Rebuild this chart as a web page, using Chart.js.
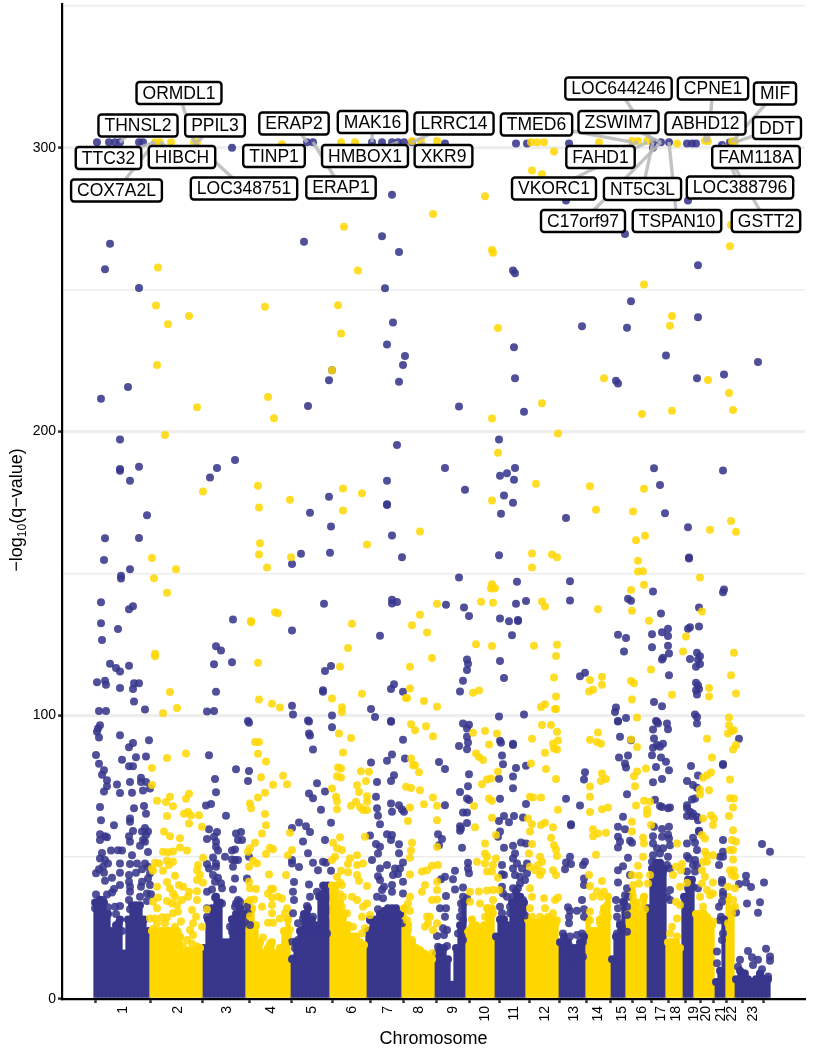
<!DOCTYPE html>
<html>
<head>
<meta charset="utf-8">
<script src="https://cdn.jsdelivr.net/npm/chart.js@4"></script>
<style>html,body{margin:0;padding:0;background:#fff}#w{position:relative;width:813px;height:1050px}</style>
</head>
<body>
<div id="w"><canvas id="c" width="813" height="1050"></canvas></div>
<script>
const chromosomes = ["1","2","3","4","5","6","7","8","9","10","11","12","13","14","15","16","17","18","19","20","21","22","23"];
const chromosomeCentres = [123,178,227,271,312,352,388,419,453,485,514,545,574,598,622,642,661,676,694,706,721,732,753];
const yTicks = [0,100,200,300];

// Solid lower mass of each chromosome: [genome position, height]
const blueMass = [[96,34],[100,35],[104,34],[108,30],[112,24],[116,26],[120,28],[124,16],[128,28],[132,33],[136,33],[140,33],[144,28],[148,24],
[204,18],[208,28],[212,32],[216,36],[220,34],[224,20],[228,20],[232,28],[236,30],[240,32],[244,30],
[292,14],[296,20],[300,24],[304,30],[308,32],[312,28],[316,26],[320,36],[324,40],[328,40],
[368,24],[372,28],[376,28],[380,30],[384,31],[388,32],[392,32],[396,32],[400,30],
[436,16],[440,18],[444,18],[448,14],[452,5],[456,18],[460,26],[464,34],
[496,22],[500,28],[504,28],[508,26],[512,34],[516,38],[520,36],[524,34],
[560,20],[564,22],[568,20],[572,18],[576,18],[580,20],[584,22],
[612,14],[616,22],[620,26],[624,34],
[648,32],[652,46],[656,48],[660,48],[664,46],
[684,36],[688,42],[692,42],
[716,6],[720,10],[724,28],
[736,7],[740,10],[744,9],[748,7],[752,6],[756,7],[760,9],[764,7],[768,7]];
const yellowMass = [[152,24],[156,24],[160,24],[164,24],[168,24],[172,24],[176,24],[180,22],[184,16],[188,17],[192,17],[196,17],[200,18],
[248,34],[252,32],[256,26],[260,20],[264,16],[268,18],[272,20],[276,16],[280,18],[284,24],[288,28],
[332,40],[336,40],[340,34],[344,30],[348,26],[352,22],[356,22],[360,20],[364,19],
[404,32],[408,26],[412,20],[416,18],[420,17],[424,16],[428,15],[432,14],
[468,24],[472,28],[476,26],[480,24],[484,26],[488,32],[492,32],
[528,28],[532,27],[536,27],[540,27],[544,28],[548,28],[552,28],[556,27],
[588,28],[592,24],[596,24],[600,28],[604,32],[608,36],
[628,30],[632,38],[636,34],[640,30],[644,36],
[668,20],[672,20],[676,20],[680,18],
[696,30],[700,30],[704,30],[708,28],[712,26],
[728,36],[732,32]];

const bluePoints = [
[97,302],[109,302],[115,302],[120,302],[139,302],[143,302],[232,300],[307,302],[313,302],[372,302],[382,302],[392,302],[398,302],[404,302],[412,302],[445,301.5],[516,301.5],[527,301.5],[569,301.5],[653,302],[661,302],[669,302],[653,300],[687,301.5],[692,301.5],[696,301.5],[722,301],[730,302],
[392,283.5],[110,266.2],[304,266.9],[382,268.8],[399,263.3],[105,257.2],[139,250.6],[385,250.5],[393,238.4],[387,230.7],[405,226.6],[403,223.5],[332,221.6],[329,218.1],[399,217.6],[128,215.7],[101,211.6],[308,209],[120,197.2],[397,195.3],[235,190],
[566,281.4],[688,281.4],[625,269.6],[698,258.6],[513,256.8],[515,255.8],[631,245.9],[698,240.3],[582,237.1],[627,236.6],[514,229.7],[666,226.8],[758,224.5],[515,218.8],[724,220.1],[697,218.8],[616,217.9],[618,216.9],[459,208.8],[524,207],[499,197.2],
[120,186.8],[120,186.2],[139,187.6],[130,182.7],[147,170.5],[105,162.4],[139,162.5],[104,154.7],[130,151.5],[121,149.2],[121,148.2],[101,139.8],[133,138.4],[129,137.4],[101,132.4],[118,130.4],[102,126.5],[110,118.2],[116,116.7],[120,115.4],[129,117.5],[97,111.6],[105,112.2],[106,110.8],[134,111.3],[139,111.3],[120,109.6],[133,109.3],[134,104.9],[145,102],[99,101.5],[106,101.5],
[217,187.2],[210,183.8],[233,133.8],[216,124.3],[221,122.8],[214,118],[232,118.7],[216,108.3],[207,101.3],[214,101.5],[292,129.9],[292,153.3],[301,156.9],[310,171.4],[329,177],[331,166.5],[330,157.3],[324,139.3],[325,115.6],[331,117.4],[323,108.8],[323,108.3],[292,103.4],[293,100.3],[332,99.9],[308,98.2],[371,102.2],[375,99.4],[387,182.7],[387,174.4],[387,174.1],[392,163.4],[402,155.7],[380,128],[392,140.7],[392,139.4],[397,139.9],[394,110.9],[391,109.3],[403,108.3],[391,98],[248,98],
[445,187.2],[500,184.4],[507,185.3],[515,187.2],[514,183],[465,179.5],[504,177.5],[513,174.9],[501,171],[566,169.5],[654,187.1],[660,181.2],[665,171.2],[723,186.3],[688,166.3],[689,155.6],[689,155.3],[499,156.4],[459,148.6],[517,147.1],[570,147.2],[653,143.6],[723,143.4],[724,144.3],[628,141.1],[631,140.4],[446,139],[464,138],[469,135],[516,139.3],[526,140.3],[570,140.5],[500,134.1],[509,133.1],[518,133.6],[518,133.2],[512,128.2],[661,135.9],[699,138],[699,131.3],[690,131],[688,130.5],[668,130.5],[662,129.3],[652,128.6],[668,127.9],[618,128.4],[626,127.2],[624,122.5],[668,124.5],[652,124],[669,121.8],[663,120.3],[662,119.7],[690,119.8],[697,122],[700,120.8],[698,119.6],[700,118.1],[696,117.1],[467,119.7],[468,118.2],[467,116],[463,112.2],[460,108.4],[500,119.1],[504,113.1],[580,113.8],[585,115],[669,114.1],[696,111.5],[698,110.6],[699,109.3],[696,108.8],[697,107.3],[654,104.7],[662,103.2],[616,102.7],[615,101.2],[499,99.6],[524,100.3],[626,99],[618,98],[656,98],[695,100.3],[697,99.4],
[100,96.5],[98,95.3],[97,94.2],[99,92.2],[120,93],[149,91.2],[133,90.2],[129,88.7],[96,86],[122,84.3],[136,85.2],[146,85.5],[99,82.9],[129,82],[133,82],[104,80.6],[102,79],[107,77.1],[117,75.6],[107,75],[104,73.1],[120,72.6],[130,76.5],[132,72.7],[141,78],[141,76.5],[146,76.5],[143,73.5],[150,74.2],[100,67.7],[134,67.2],[144,68],[146,65.3],[130,63.6],[130,62.5],[101,63],[114,61.2],[145,60.3],[142,59],[148,59],[133,59.2],[129,57.4],[100,58.1],[100,56],[105,57.4],[107,57],[146,57.8],[143,56],[145,55.4],[130,55.4],[140,54],[102,51.5],[111,52.3],[118,52.4],[122,52.3],[148,51.8],[132,50.7],[100,49.5],[105,49],[108,47.8],[103,46.6],[99,45.7],[120,47.8],[130,47.6],[137,47.8],[145,47.8],[148,46.6],[142,45.7],[136,44.5],[129,43.7],[96,44.3],[104,44.5],[120,44.5],[150,44.3],[148,42.5],[142,41.3],[112,42.7],[105,41.7],[129,41.3],[130,39.6],[130,37.8],[120,40.2],[114,38.8],[141,39.6],[150,40.2],[96,36.8],[107,36.8],[112,37.5],[140,36],[147,37.2],[151,36.9],[129,34.9],[147,34.5],[95,34],[103,34.9],[95,32],[108,32.3],[115,32.5],[120,32.8],[130,31.6],[137,31.1],[116,30],[119,27],[122,24],[114,22],
[249,97.4],[209,85.9],[236,81],[249,80.4],[215,77.5],[248,76.8],[216,72.9],[211,68.7],[206,68.2],[226,64.6],[209,59.8],[217,58.9],[207,56.4],[214,57.2],[216,55.4],[216,53.7],[236,58.3],[241,58.9],[238,56],[242,56],[218,52.3],[232,52.3],[235,52.7],[232,49.2],[235,49],[238,49],[225,50.1],[213,49.9],[207,47.6],[216,47.8],[209,46],[216,46.6],[233,46.6],[213,43.7],[218,42.7],[215,41.3],[221,40.8],[235,42.5],[222,39],[212,38.6],[207,37.8],[233,38.6],[215,35.8],[222,33.7],[217,32.5],[215,30.2],[238,34.9],[236,33.7],[240,34.3],[235,32.5],[207,32],[217,27.8],[215,25.5],[232,28.1],[240,27.8],[245,27.3],[230,25.5],[237,25.5],[242,26.1],[207,29],[218,30.2],[232,23.7],[240,23.1],[247,42.5],[247,32.5],[248,30.2],[250,26.1],[249,50.1],
[309,97.8],[309,93.6],[310,92.9],[313,87.9],[317,76],[309,72.4],[313,70.8],[325,73.1],[321,66.7],[331,62.1],[299,62.2],[306,60.9],[292,60.3],[310,58.9],[303,55.5],[325,56],[308,51.4],[292,49],[292,47.8],[299,46.5],[313,48],[323,48.4],[326,48],[318,45.4],[331,45.2],[294,41.2],[309,40.4],[323,39.9],[317,37.8],[322,37.2],[319,36],[293,37.8],[294,34.9],[310,36],[307,32.8],[325,34.9],[323,32],[293,30.2],[303,28.4],[313,29],[322,29],[325,27.8],[298,26.7],[308,25.5],[317,25.5],[323,25.5],[327,23.1],[302,24.3],[308,23.1],[315,23.7],[298,20.8],[292,20.2],[295,17.9],[307,18.5],[320,20.8],[293,14.3],[332,95.8],
[391,97.7],[403,91.4],[392,86.2],[387,84],[371,83.4],[405,84.8],[394,78.9],[391,76.8],[377,76.5],[376,71.3],[391,68.9],[392,66],[377,67.2],[378,64.6],[380,61.6],[399,68.3],[402,66.8],[404,66],[370,57.6],[387,58.1],[392,57.8],[391,56],[376,54.6],[380,53.7],[378,51.3],[399,54.5],[399,51.4],[372,49],[403,48.1],[380,46],[387,47.2],[395,46],[400,46],[393,43.7],[398,44.1],[378,43.3],[380,41.9],[403,41.3],[384,39.6],[392,40.2],[392,37.8],[382,38.4],[377,36],[383,35.5],[403,37.2],[378,31.6],[370,28.1],[370,27.8],[383,28.4],[390,29.2],[398,29],[402,26.7],
[463,97.1],[469,96.7],[467,95.3],[467,92.4],[468,90.4],[459,89.2],[467,88],[439,83.5],[445,81.1],[469,79.2],[468,75],[460,73],[467,70.7],[469,70.1],[445,68.3],[463,65.7],[467,65.7],[467,62],[460,60.9],[461,60.1],[460,59.3],[438,58.1],[442,56.4],[439,54.2],[462,53.3],[468,48],[468,46],[469,44.3],[455,45.2],[445,43.1],[441,42.2],[453,42.2],[455,38.6],[463,39.3],[446,36.3],[463,36],[467,35.5],[440,32],[446,32],[461,33.7],[462,31.4],[460,29],[463,27.8],[445,29],[443,24.9],[447,24.3],[437,22.2],[444,22.6],[438,18.4],[447,18.7],[440,16.7],[462,25.5],[458,23.1],[463,20.8],
[500,91],[501,90.3],[513,90],[513,89.5],[502,85.8],[503,82.7],[526,82.2],[516,81.4],[513,78.4],[499,77.6],[513,74.3],[500,70.6],[526,68.7],[523,64],[514,64.5],[504,64.5],[499,62.7],[509,62.3],[500,59],[498,57.2],[504,53.3],[513,54],[521,55.2],[526,54.8],[515,51.3],[513,49.5],[517,47.8],[513,46],[527,47.8],[522,46],[502,47.2],[502,44],[504,43.7],[527,44.3],[525,41.9],[520,43.1],[515,43.7],[502,39.6],[520,40.7],[513,39],[518,39],[507,36],[513,36],[520,36],[523,34.9],[503,37.2],[500,32.5],[502,30.2],[510,32.5],[513,33.7],[510,30.2],[525,29.4],[502,27.8],[520,26.7],
[566,70.6],[580,68.2],[571,61.6],[571,61.2],[570,50.1],[566,48.1],[571,47.6],[565,45.7],[585,48.4],[583,47.2],[585,79.9],[584,77.4],[584,42.5],[584,40.2],[582,34.9],[568,32.3],[577,31.1],[570,31.1],[584,31.6],[584,29],[569,29],[569,26.7],[563,23.1],[570,22],[577,22.6],[582,23.1],[563,20.2],[565,17.9],[570,18.4],[573,17.3],[580,18.4],[583,20.2],[565,16.1],[573,16.1],[583,14.9],[570,12.6],[578,13.7],
[618,97.8],[620,92.4],[631,91.2],[619,85.1],[628,85.8],[625,83],[626,81.6],[627,72.2],[623,64.2],[618,60.7],[625,59.8],[618,57.2],[630,55.8],[632,55.1],[620,55.5],[618,53.4],[628,49.8],[623,46.8],[618,45.4],[630,43.7],[618,41.1],[627,39],[625,36.6],[628,36],[616,34.9],[623,34.3],[618,32],[627,32.5],[627,29.6],[617,29],[620,26.7],[622,25.5],[617,23.1],[627,23.7],
[657,97.7],[658,97.1],[667,97.1],[668,95.1],[653,95],[654,91.8],[663,90],[657,89.5],[653,88.6],[660,88.9],[652,85.9],[661,85.1],[666,83.6],[656,81.8],[669,80.6],[653,76.4],[662,77.5],[655,70.2],[660,68],[662,67.7],[668,67.2],[670,67.5],[654,60.7],[662,59.9],[669,60.7],[653,57.4],[662,57.2],[668,58],[669,56.6],[653,54.8],[657,53.1],[663,53.1],[670,54.2],[653,50.7],[660,51.3],[668,50.1],[652,48.4],[660,47.8],[667,47.2],[670,46],[657,45.4],[663,44.9],[653,41.9],[662,41.9],[670,38.4],[667,36],[670,34.9],
[697,97.1],[691,82.1],[698,78.8],[687,76.8],[693,75.4],[697,74.5],[692,70.3],[695,70.7],[687,68.3],[687,67.2],[690,66],[693,65.4],[687,64.5],[692,64.5],[697,64.2],[698,63],[699,59.3],[699,59],[693,56.8],[687,54.8],[695,55.1],[697,52.5],[687,50.4],[689,49.5],[695,49],[693,47.2],[697,47.2],[687,44.9],[695,44.9],[693,39.6],[688,39],[698,39],
[723,82.8],[723,82.5],[723,56],[723,51.9],[720,50.1],[723,50.1],[719,47.2],[722,41.9],[722,41],[723,37.8],[723,36.6],[722,34.3],[719,32.5],[721,29],[720,27.8],[723,23.1],[722,20.8],[717,16.7],[717,12.6],
[739,91.7],[762,54.6],[770,51.9],[746,43.4],[739,40.5],[746,41.1],[751,39.5],[764,41.1],[736,30.5],[747,33.7],[760,34.1],[758,30.4],[748,16.9],[766,17.7],[770,15],[770,13.5],[752,14.7],[758,13.8],[740,13.8],[753,12],[738,11.4],[762,10.5],[745,9],[760,8.5],[768,7.9]];

const yellowPoints = [
[155,302],[160,302],[171,302],[194,302],[197,302],[282,301.3],[341,302],[355,302],[412,302.4],[421,302.4],[437,302.4],[531,302],[537,302],[544,302],[554,298.7],[532,292],[542,290.7],[599,302],[632,302.4],[638,302.4],[647,302.4],[677,301.5],[705,302.5],[708,302.3],[732,302.3],[735,302.3],
[433,276.7],[344,272.2],[358,256.8],[158,257.8],[156,244.4],[265,244],[338,244.5],[189,240.7],[168,237.8],[341,234.6],[157,223.5],[332,221.6],[268,212.2],[197,208.6],[274,204.7],[165,198.8],
[485,282.9],[730,265.3],[731,272.8],[492,264],[493,263],[644,251.8],[672,240.7],[670,237.3],[498,236.5],[604,218.8],[708,218.2],[729,213.6],[733,207.6],[672,207.3],[642,206.2],[542,210],[492,204.6],[558,199.3],[498,192.5],
[203,178.9],[258,180.9],[259,173.2],[260,160.6],[259,156.7],[267,152.1],[290,176],[291,155.7],[343,179.9],[362,178.3],[343,172.2],[367,160.2],[420,164.8],[152,155.4],[176,151.5],[154,148.3],[167,143.2],[251,133.2],[251,132.8],[275,136.3],[278,136],[352,132.3],[348,123.7],[412,131.7],[420,135.4],[427,129.2],[437,139.3],[432,120.2],[410,117.1],[340,117.1],[258,118.5],[155,121.7],[155,120.8],[170,108.2],[163,100.7],[177,102.6],[259,105.6],[272,104.1],[280,102.7],[332,105.9],[362,107.6],[342,102.8],[342,101.2],[410,109.4],[406,106.1],[407,106.1],[424,105],[437,103],
[536,181.6],[590,180.7],[644,179.8],[492,175.7],[596,172.4],[633,171.8],[731,168.5],[710,165.4],[736,164.7],[645,163.3],[636,161.7],[532,157],[552,156.7],[557,155.7],[532,152.1],[638,154.5],[638,150.7],[643,150.8],[700,148.6],[492,146.2],[491,144.7],[495,144.8],[631,144.2],[644,146],[481,140],[493,139.7],[542,140.1],[545,138.3],[598,137.4],[632,136.8],[702,136.6],[649,133.3],[686,127.8],[476,125],[492,124.4],[534,124.5],[557,124.9],[556,120.9],[683,122.5],[734,122],[651,116.1],[731,114.1],[554,113.3],[590,112.4],[602,113.6],[602,110.8],[631,112.1],[634,111.3],[589,108.4],[593,109],[709,109.6],[709,106.6],[736,107.7],[672,107.2],[632,105.6],[556,106.6],[473,107.9],[479,108.7],[541,102.9],[545,103.9],[555,102.2],[556,102.2],[637,99.2],[729,99.2],
[186,86.5],[167,84.9],[152,81.4],[152,75.4],[189,72.3],[186,70.6],[170,71.3],[166,69.4],[157,69.9],[173,67.9],[167,64.5],[184,65.3],[188,65.9],[191,64.7],[199,64.8],[189,61.9],[202,60.7],[164,59],[170,57.4],[180,56.7],[180,53.4],[187,52.3],[163,51.9],[168,51.7],[173,52],[203,49.8],[155,48],[159,47.8],[167,48.7],[173,48.4],[169,47.2],[153,45.2],[163,45.2],[152,46],[198,47.2],[197,45.4],[200,43.7],[175,43.4],[167,41.2],[197,41.9],[203,41],[157,39.6],[179,40.2],[183,39.6],[170,39],[173,37.2],[189,37.8],[197,38],[158,35.8],[153,34.3],[175,36],[167,34.5],[172,33.7],[182,34.9],[177,33.1],[188,36],[157,32],[197,34.9],[207,31.6],[178,30.8],[173,30.2],[192,31.4],[150,28.4],[155,28.4],[162,28.8],[167,28.8],[181,27.3],[196,29],[165,26.7],[157,26.7],[193,26.7],[153,24.7],[175,25.5],[190,24.3],[202,25.5],[172,23.1],[178,23.7],[193,22.6],[187,20.8],[192,19.6],[183,18.5],[197,18.5],[192,16.7],
[255,90.6],[259,90.6],[258,86.4],[266,83.7],[261,78.2],[283,78.7],[273,75.5],[287,75.7],[265,72.7],[258,71],[250,68.9],[251,67.2],[265,65.2],[266,61.2],[262,58.3],[255,55.1],[250,53.1],[248,51.9],[270,53.3],[273,52.8],[266,51.1],[290,58.6],[292,52.5],[288,50.7],[253,48.7],[257,47.8],[249,46.6],[269,43.9],[286,43.7],[249,41.3],[256,38.8],[250,39],[271,38.9],[273,38.8],[268,37.2],[278,36],[282,35.4],[272,35.8],[254,35.1],[250,34.9],[262,32.5],[272,33.1],[287,32],[285,30.2],[272,30.2],[280,28.4],[268,26.9],[273,26.9],[250,29.2],[290,24.3],[288,22.6],[250,23.1],[253,21],[263,21.7],[270,19.6],[282,17.9],[285,19.6],[267,17.3],
[339,93.6],[351,92],[343,86.9],[338,81.6],[341,81.2],[337,78.5],[341,78.1],[361,80.3],[369,80.1],[366,76.8],[357,75.3],[332,74.2],[359,73],[336,71.3],[367,71.5],[337,69.7],[367,69.5],[337,66.9],[356,69.5],[351,68.1],[360,67.7],[363,66.6],[367,66.6],[340,57],[365,57.2],[333,55.1],[337,53.1],[342,52.5],[335,50.1],[332,49],[357,50.7],[350,49.6],[348,47.6],[363,47.8],[357,47.2],[341,45.2],[348,44.7],[357,43.7],[337,43.1],[340,41],[342,40.2],[359,41.7],[367,39.8],[333,37.8],[340,36.9],[343,36],[352,36],[357,34.9],[367,33.7],[363,32.5],[333,33.7],[342,32.5],[347,30.2],[362,29],[370,29.6],[353,25.5],[365,24.9],[362,23.1],[333,29],[340,27.8],[343,25.5],[352,21.4],[345,19.6],[358,19],
[411,96.8],[415,94.7],[426,96.1],[411,84.8],[413,82.4],[415,82.4],[419,79.9],[406,74.8],[411,74.4],[420,73.6],[424,68.6],[410,67.5],[408,62.7],[412,55.1],[411,52.3],[410,49.8],[422,44.9],[427,45.4],[410,43.9],[422,37.8],[425,40.2],[410,36],[408,33.7],[410,31.1],[427,29],[407,27.8],[425,25.5],[428,26.7],[408,24.3],[420,17.3],[412,20.8],[433,92.6],[433,71],[437,68.1],[437,63],[437,53.6],[432,47],[438,47.2],[437,41.3],[437,38.4],[432,34.9],[437,35.1],[430,29],[437,26.7],[433,24.3],[432,16.1],
[473,93.8],[485,94.5],[497,93.6],[489,89.7],[476,86.5],[479,85.3],[483,84.2],[498,80.2],[491,77.7],[487,77.4],[482,75.7],[489,70.7],[492,69.9],[474,68],[492,63.9],[475,60.5],[496,57.8],[485,54.8],[485,51.3],[487,50.1],[496,49.5],[477,48.4],[485,47.8],[493,47.2],[487,44.9],[492,44.9],[498,42.7],[470,37.8],[479,37.9],[487,38.2],[493,38.4],[499,38.4],[470,34.3],[480,33.7],[493,34.9],[487,32],[493,30.2],[485,29],[490,27.8],[472,25.5],[482,24.9],
[542,96.6],[551,96.6],[557,94.2],[532,91.7],[558,91.1],[553,90],[554,88.3],[557,87.9],[545,86.8],[531,83],[546,81.1],[556,77.5],[530,71.3],[533,71],[541,71],[558,66.7],[528,63.6],[532,61.6],[530,59],[541,61.3],[545,62.1],[553,60.5],[551,56.8],[554,54.2],[556,52.7],[532,54.6],[529,51.3],[557,50.4],[540,50.1],[542,48.4],[538,47.2],[530,46.6],[535,45.4],[542,44.9],[540,43.7],[553,45.4],[556,43.7],[530,39],[532,36],[558,35.8],[555,34.9],[544,35.5],[530,32],[545,32],[553,30.2],[532,29],[540,29],[548,29],[557,27.8],[530,26.1],[538,26.7],[553,26.7],
[598,93.9],[590,91.4],[597,90.6],[601,90],[602,79.5],[606,77.5],[601,76.8],[590,74.9],[590,71.3],[590,65.9],[602,66.9],[608,67.5],[593,59.8],[598,58.3],[606,58.6],[593,57.4],[596,50.8],[589,43.7],[602,41.6],[590,39.8],[597,38],[604,37.8],[601,36],[593,36],[607,33.1],[590,30.8],[603,30.2],[590,27.8],[600,26.7],[608,29],
[631,91.5],[637,88.8],[646,81.2],[637,80.2],[634,78.5],[635,75],[644,69.9],[650,69.5],[636,68.2],[647,66.8],[647,65.2],[632,62.5],[632,59],[651,61.3],[643,56.9],[644,54.8],[643,50.1],[638,47],[632,43.7],[639,43.4],[650,43.7],[633,40.2],[639,40.6],[648,40.7],[643,34.9],[633,36],[638,32.5],[645,31.6],
[677,54.8],[673,43.7],[676,46.6],[682,47.6],[681,45.4],[680,39.6],[687,41],[676,34.3],[680,33.1],[677,28.4],[672,25.5],[677,22],[670,23.1],
[707,91.7],[712,85.1],[711,79.8],[707,78.9],[703,78],[709,73.6],[700,73.8],[700,72.1],[703,63.6],[711,64.8],[714,63.6],[713,61.3],[702,57.8],[705,56.6],[705,51.9],[707,50.7],[713,50.7],[703,48.4],[707,48.4],[702,45.4],[705,43.1],[702,40.7],[713,41.1],[707,38.4],[710,36.6],[713,37.2],[700,36],[703,32.5],[707,29],[713,27.3],
[729,96.5],[732,94.5],[734,94.7],[728,93.6],[736,89.5],[733,87.9],[730,77.4],[730,70.8],[734,70.7],[733,67.5],[729,64.5],[733,59.5],[732,56],[736,55.4],[730,52.5],[733,52.5],[733,49.2],[730,45.4],[734,45.4],[732,43.7],[735,43.2],[728,39.6],[735,39],[733,34.9],[735,32.5],[732,30.2],[728,26.7]];

const geneNames = ["ORMDL1","THNSL2","PPIL3","ERAP2","MAK16","LRRC14","TTC32","HIBCH","TINP1","HMBOX1","XKR9","COX7A2L","LOC348751","ERAP1","TMED6","LOC644246","CPNE1","MIF","ZSWIM7","ABHD12","DDT","FAHD1","FAM118A","VKORC1","NT5C3L","LOC388796","C17orf97","TSPAN10","GSTT2"];
const geneX = [194,120,197,307,372,412,155,160,282,398,421,155,194,313,632,653,708,732,661,705,735,638,722,647,653,722,661,669,722];
const geneY = [302,302,302,302,302,302,302,302,301,302,302,302,302,302,302,302,302,302,302,302,302,302,301,302,302,301,302,302,301];

// Where each gene's label box sits on the page, in gene order
const labelLayout = [[179,93],[138,125.5],[215,125.5],[294,123.5],[372.5,122],[454,123.5],[108.5,158],[182,157],[274,156],[365,156],[443.5,156],[116.5,190.5],[244,188.5],[341,187.5],[536.5,124.5],[618.5,88.5],[713,88.5],[775,93.5],[618.5,122],[705.5,123.5],[777,128],[600.5,157],[756,157],[554,188.5],[642.5,189],[740,187.5],[583,221],[677,221],[766,221]];

const FONT = '"Liberation Sans", Arial, sans-serif';
const toXY = a => a.map(p => ({x:p[0], y:p[1]}));

const geneLabels = {
  id:'geneLabels',
  afterDatasetsDraw(chart){
    const {ctx, scales:{x,y}} = chart;
    ctx.save();
    ctx.lineCap='butt';
    ctx.strokeStyle='rgba(185,185,185,0.85)';
    ctx.lineWidth=3.4;
    geneNames.forEach((n,i)=>{
      ctx.beginPath();
      ctx.moveTo(labelLayout[i][0],labelLayout[i][1]);
      ctx.lineTo(x.getPixelForValue(geneX[i]),y.getPixelForValue(geneY[i]));
      ctx.stroke();
    });
    ctx.font='17.5px '+FONT;
    ctx.textAlign='center';
    ctx.textBaseline='middle';
    geneNames.forEach((n,i)=>{
      const w=ctx.measureText(n).width+12, h=22, cx=labelLayout[i][0], cy=labelLayout[i][1];
      ctx.beginPath();
      ctx.roundRect(cx-w/2,cy-h/2,w,h,3);
      ctx.fillStyle='#fff';
      ctx.fill();
      ctx.strokeStyle='#000';
      ctx.lineWidth=2.4;
      ctx.stroke();
      ctx.fillStyle='#000';
      ctx.fillText(n,cx,cy+1);
    });
    // y-axis title with a true subscript
    ctx.translate(22,510);
    ctx.rotate(-Math.PI/2);
    ctx.textAlign='left';
    ctx.textBaseline='alphabetic';
    const a='−log', b='10', c='(q−value)';
    ctx.font='18px '+FONT;
    const wa=ctx.measureText(a).width, wc=ctx.measureText(c).width;
    ctx.font='12px '+FONT;
    const wb=ctx.measureText(b).width;
    const x0=-(wa+wb+wc)/2;
    ctx.fillStyle='#000';
    ctx.font='18px '+FONT;
    ctx.fillText(a,x0,0);
    ctx.fillText(c,x0+wa+wb,0);
    ctx.font='12px '+FONT;
    ctx.fillText(b,x0+wa,4);
    ctx.restore();
  }
};

new Chart(document.getElementById('c'),{
  type:'scatter',
  plugins:[geneLabels],
  data:{datasets:[
    {type:'bar',data:toXY(blueMass),backgroundColor:'#38378c',borderWidth:0,grouped:false,barThickness:4.6,order:6},
    {type:'bar',data:toXY(yellowMass),backgroundColor:'#ffd700',borderWidth:0,grouped:false,barThickness:4.6,order:5},
    {type:'scatter',data:toXY(blueMass),backgroundColor:'#38378c',pointRadius:4,borderWidth:0,order:4},
    {type:'scatter',data:toXY(yellowMass),backgroundColor:'#ffd700',pointRadius:4,borderWidth:0,order:3},
    {type:'scatter',data:toXY(bluePoints),backgroundColor:'rgba(56,55,140,0.88)',pointRadius:4,borderWidth:0,order:2},
    {type:'scatter',data:toXY(yellowPoints),backgroundColor:'rgba(255,215,0,0.85)',pointRadius:4,borderWidth:0,order:1}
  ]},
  options:{
    responsive:false,animation:false,
    layout:{padding:{top:3,right:8,left:0,bottom:0}},
    plugins:{legend:{display:false},tooltip:{enabled:false}},
    scales:{
      x:{
        type:'linear',min:62,max:805,offset:false,
        afterFit:s=>{s.height=51;s.paddingLeft=0;s.paddingRight=0;},
        afterBuildTicks:s=>{s.ticks=chromosomeCentres.map(v=>({value:v}));},
        grid:{drawOnChartArea:false,drawTicks:true,tickLength:4,tickColor:'#333',tickWidth:2.5},
        border:{color:'#000',width:2.2},
        ticks:{autoSkip:false,minRotation:90,maxRotation:90,padding:3,color:'#000',font:{family:FONT,size:14},
          callback:(v)=>chromosomes[chromosomeCentres.indexOf(v)]},
        title:{display:true,text:'Chromosome',color:'#000',font:{family:FONT,size:18},padding:{top:0,bottom:0}}
      },
      y:{
        min:0,max:350.7,
        afterFit:s=>{s.width=62;s.paddingTop=0;s.paddingBottom=0;},
        afterBuildTicks:s=>{const t=[];for(let v=0;v<=350;v+=50)t.push({value:v});s.ticks=t;},
        grid:{drawTicks:true,tickLength:4,
          color:c=>c.tick.value===0?'transparent':'#eeeeee',
          lineWidth:c=>c.tick.value%100===0?3.2:1.6,
          tickColor:c=>yTicks.includes(c.tick.value)?'#333':'transparent',tickWidth:2.5},
        border:{color:'#000',width:2.2},
        ticks:{autoSkip:false,padding:2,color:'#000',font:{family:FONT,size:14},
          callback:v=>yTicks.includes(v)?String(v):''}
      }
    }
  }
});
</script>
</body>
</html>
